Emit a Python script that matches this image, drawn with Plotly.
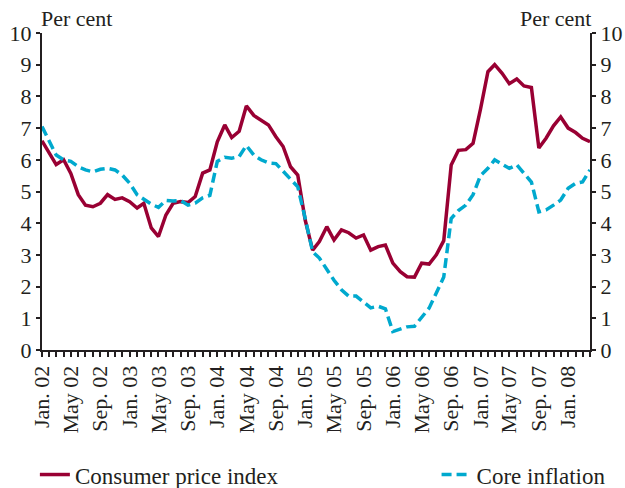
import pandas as pd
import plotly.graph_objects as go

months = pd.date_range("2002-01-01", periods=76, freq="MS")

cpi = [6.6, 6.2, 5.85, 6.0, 5.57, 4.9, 4.57, 4.52, 4.63, 4.9, 4.75, 4.8,
       4.68, 4.48, 4.63, 3.85, 3.58, 4.26, 4.63, 4.68, 4.65, 4.84, 5.58, 5.68,
       6.57, 7.1, 6.7, 6.9, 7.7, 7.4, 7.25, 7.1, 6.73, 6.42, 5.78, 5.52,
       4.1, 3.15, 3.42, 3.89, 3.47, 3.79, 3.7, 3.53, 3.63, 3.15, 3.26, 3.31,
       2.74, 2.47, 2.31, 2.3, 2.74, 2.71, 3.0, 3.45, 5.84, 6.3, 6.32, 6.52,
       7.6, 8.78, 9.0, 8.73, 8.4, 8.55, 8.33, 8.28, 6.37, 6.68, 7.07, 7.35,
       7.0, 6.86, 6.68, 6.57]

core = [7.05, 6.6, 6.15, 6.0, 5.95, 5.78, 5.68, 5.62, 5.7, 5.73, 5.68, 5.52,
        5.26, 4.9, 4.75, 4.6, 4.5, 4.72, 4.7, 4.72, 4.57, 4.63, 4.8, 4.88,
        5.95, 6.08, 6.05, 6.1, 6.45, 6.15, 6.0, 5.9, 5.88, 5.65, 5.4, 5.15,
        4.15, 3.1, 2.9, 2.55, 2.2, 1.9, 1.7, 1.7, 1.52, 1.33, 1.38, 1.3,
        0.58, 0.65, 0.73, 0.75, 1.05, 1.32, 1.8, 2.3, 4.15, 4.4, 4.57, 4.9,
        5.5, 5.73, 6.0, 5.87, 5.73, 5.84, 5.58, 5.3, 4.36, 4.42, 4.57, 4.73,
        5.1, 5.26, 5.3, 5.68]

tick_labels = ["Jan. 02", "May 02", "Sep. 02", "Jan. 03", "May 03", "Sep. 03",
               "Jan. 04", "May 04", "Sep. 04", "Jan. 05", "May 05", "Sep. 05",
               "Jan. 06", "May 06", "Sep. 06", "Jan. 07", "May 07", "Sep. 07",
               "Jan. 08"]
tick_dates = pd.date_range("2002-01-01", periods=len(tick_labels), freq="4MS")

y_ticks = list(range(0, 11))

RED = "#990033"
CYAN = "#00A9CE"
INK = "#231F20"
FONT = "Liberation Serif"
FS = 22

fig = go.Figure()
fig.add_trace(go.Scatter(x=months, y=cpi, mode="lines", name="Consumer price index",
                         line=dict(color=RED, width=3.5), legend="legend"))
fig.add_trace(go.Scatter(x=months, y=core, mode="lines", name="Core inflation",
                         line=dict(color=CYAN, width=3.5, dash="10px,5px"), legend="legend2"))
fig.add_trace(go.Scatter(x=[months[0]], y=[None], yaxis="y2", showlegend=False,
                         hoverinfo="skip"))

fig.update_layout(
    width=625, height=488,
    margin=dict(l=42, r=35, t=33, b=138, autoexpand=False),
    paper_bgcolor="white", plot_bgcolor="white",
    font=dict(family=FONT, size=FS, color=INK),
    xaxis=dict(
        type="date", automargin=False,
        range=[months[0], months[-1]],
        tickvals=list(tick_dates), ticktext=tick_labels,
        tickangle=-90, ticks="outside", ticklen=5, tickwidth=1.5, tickcolor=INK,
        minor=dict(dtick="M1", ticks="outside", ticklen=5, tickwidth=1.5, tickcolor=INK),
        showline=True, linecolor=INK, linewidth=2,
        showgrid=False, zeroline=False,
        tickfont=dict(family=FONT, size=FS, color=INK),
    ),
    yaxis=dict(
        range=[0, 10], tickvals=y_ticks, automargin=False,
        ticks="outside", ticklen=4, tickwidth=2, tickcolor=INK,
        showline=True, linecolor=INK, linewidth=2,
        showgrid=False, zeroline=False,
        tickfont=dict(family=FONT, size=FS, color=INK),
    ),
    yaxis2=dict(
        range=[0, 10], tickvals=y_ticks, overlaying="y", side="right", automargin=False,
        ticks="outside", ticklen=4, tickwidth=2, tickcolor=INK,
        showline=True, linecolor=INK, linewidth=2,
        showgrid=False, zeroline=False,
        tickfont=dict(family=FONT, size=FS, color=INK),
    ),
    legend=dict(orientation="h", x=-0.013, xanchor="left", y=-0.393, yanchor="middle",
                font=dict(family=FONT, size=23, color=INK), bgcolor="rgba(0,0,0,0)"),
    legend2=dict(orientation="h", x=0.72, xanchor="left", y=-0.393, yanchor="middle",
                 font=dict(family=FONT, size=23, color=INK), bgcolor="rgba(0,0,0,0)"),
    showlegend=True,
)

fig.add_annotation(text="Per cent", xref="paper", yref="paper", x=-0.005, y=1,
                   xanchor="left", yanchor="bottom", showarrow=False, yshift=0,
                   font=dict(family=FONT, size=FS, color=INK))
fig.add_annotation(text="Per cent", xref="paper", yref="paper", x=1.005, y=1,
                   xanchor="right", yanchor="bottom", showarrow=False, yshift=0,
                   font=dict(family=FONT, size=FS, color=INK))

fig.write_html("out.html", config={"displayModeBar": False},
               post_script="document.body.style.margin='0';document.body.style.overflow='hidden';")
